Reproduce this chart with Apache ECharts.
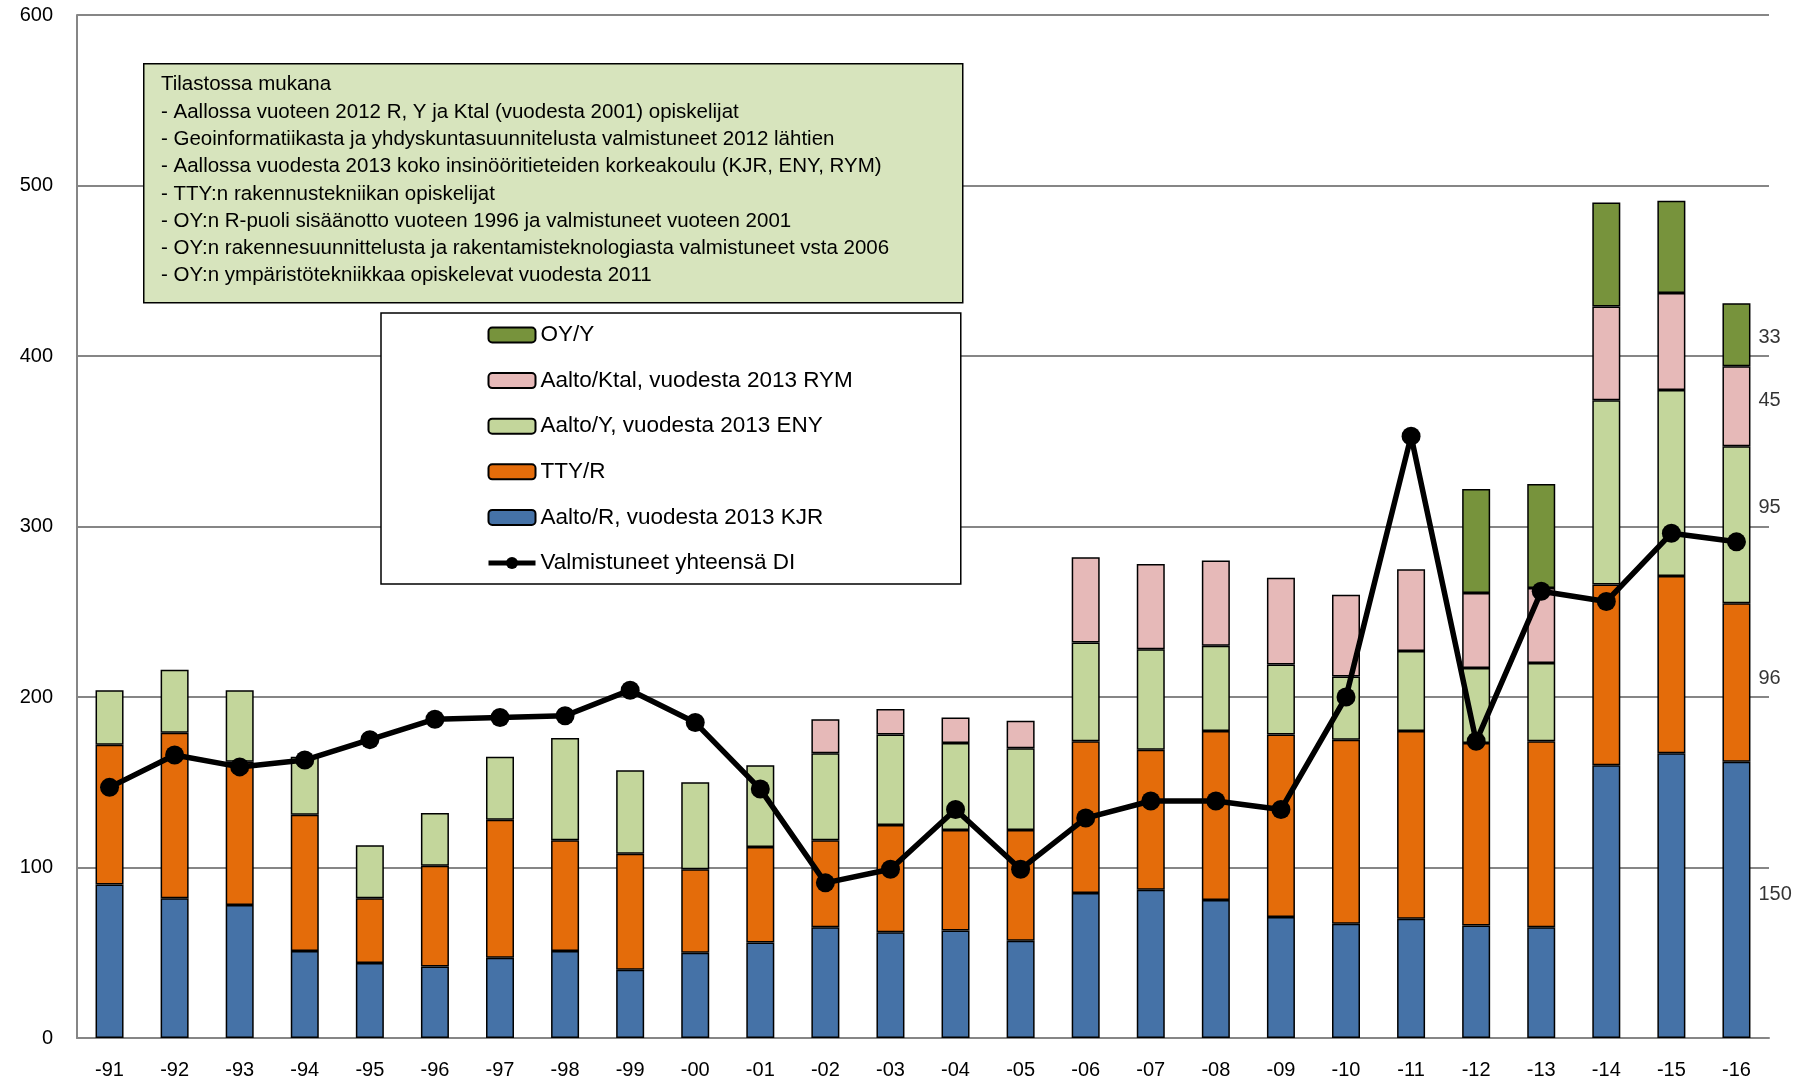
<!DOCTYPE html>
<html>
<head>
<meta charset="utf-8">
<script src="https://cdn.jsdelivr.net/npm/echarts@6/dist/echarts.min.js"></script>
<style>
  html, body { margin: 0; padding: 0; background: #fff; }
  #chart { width: 1806px; height: 1084px; }
</style>
</head>
<body>
<div id="chart"></div>
<script>
// vuodet
const years = ['-91', '-92', '-93', '-94', '-95', '-96', '-97', '-98', '-99', '-00', '-01', '-02', '-03',
  '-04', '-05', '-06', '-07', '-08', '-09', '-10', '-11', '-12', '-13', '-14', '-15', '-16']

// pinotut palkit (alhaalta ylös)
const aaltoR = [90, 82, 78, 51, 44, 42, 47, 51, 40, 50, 56, 65, 62, 63, 57, 85, 87, 81, 71, 67, 70, 66, 65, 160, 167, 162]
const ttyR = [82, 97, 84, 80, 38, 59, 81, 65, 68, 49, 56, 51, 63, 59, 65, 89, 82, 99, 107, 108, 110, 107, 109, 106, 104, 93]
const aaltoY = [32, 37, 42, 34, 31, 31, 37, 60, 49, 51, 48, 51, 53, 51, 48, 58, 59, 50, 41, 37, 47, 44, 46, 108, 109, 92]
const aaltoKtal = [null, null, null, null, null, null, null, null, null, null, null, 20, 15, 15, 16, 50, 50, 50, 51, 48, 48, 44, 44, 55, 57, 47]
const oyY = [null, null, null, null, null, null, null, null, null, null, null, null, null, null, null, null, null, null, null, null, null, 61, 61, 61, 54, 37]

// viiva
const valmistuneet = [147, 166, 159, 163, 175, 187, 188, 189, 204, 185, 146, 91, 99, 134, 99, 129, 139, 139, 134, 200, 353, 174, 262, 256, 296, 291]

// oikean reunan tekstit ja niiden korkeus arvoakselilla
const sideLabels = ['150', '96', '95', '45', '33']
const sideLabelLevels = [84, 211, 311, 374, 411]

const noteLines = [
  'Tilastossa mukana',
  '- Aallossa vuoteen 2012 R, Y ja Ktal (vuodesta 2001) opiskelijat',
  '- Geoinformatiikasta ja yhdyskuntasuunnitelusta valmistuneet 2012 lähtien',
  '- Aallossa vuodesta 2013 koko insinööritieteiden korkeakoulu (KJR, ENY, RYM)',
  '- TTY:n rakennustekniikan opiskelijat',
  '- OY:n R-puoli sisäänotto vuoteen 1996 ja valmistuneet vuoteen 2001',
  '- OY:n rakennesuunnittelusta ja rakentamisteknologiasta valmistuneet vsta 2006',
  '- OY:n ympäristötekniikkaa opiskelevat vuodesta 2011',
]

const FONT = '"Liberation Sans", sans-serif'
const GRID_COLOR = '#868686'

function barSeries(name, data, color) {
  return {
    name: name,
    type: 'bar',
    stack: 'total',
    barWidth: 28,
    data: data,
    itemStyle: { color: color, borderColor: '#000', borderWidth: 1.5 },
  }
}

const chart = echarts.init(document.getElementById('chart'))
const option = {
  animation: false,
  backgroundColor: '#fff',
  grid: { left: 77, right: 37, top: 15, bottom: 46 },
  legend: {
    orient: 'vertical',
    left: 381,
    top: 313,
    data: ['OY/Y', 'Aalto/Ktal, vuodesta 2013 RYM', 'Aalto/Y, vuodesta 2013 ENY', 'TTY/R',
      'Aalto/R, vuodesta 2013 KJR',
      { name: 'Valmistuneet yhteensä DI', lineStyle: { width: 5 } }],
    backgroundColor: '#fff',
    borderColor: '#000',
    borderWidth: 1.5,
    borderRadius: 0,
    padding: [10, 108, 9, 105],
    itemWidth: 47,
    itemHeight: 15,
    itemGap: 21.6,
    textStyle: { fontFamily: FONT, fontSize: 22.5, color: '#000', lineHeight: 24 },
  },
  xAxis: {
    type: 'category',
    data: years,
    axisLine: { lineStyle: { color: GRID_COLOR, width: 2 } },
    axisTick: { show: false },
    axisLabel: { color: '#000', fontFamily: FONT, fontSize: 20, margin: 22 },
  },
  yAxis: {
    type: 'value',
    min: 0,
    max: 600,
    interval: 100,
    axisLine: { show: true, lineStyle: { color: GRID_COLOR, width: 2 } },
    axisTick: { show: false },
    splitLine: { lineStyle: { color: GRID_COLOR, width: 2 } },
    axisLabel: { color: '#000', fontFamily: FONT, fontSize: 20, margin: 24 },
  },
  series: [
    barSeries('Aalto/R, vuodesta 2013 KJR', aaltoR, '#4572A7'),
    barSeries('TTY/R', ttyR, '#E46C0A'),
    barSeries('Aalto/Y, vuodesta 2013 ENY', aaltoY, '#C3D69B'),
    barSeries('Aalto/Ktal, vuodesta 2013 RYM', aaltoKtal, '#E6B9B8'),
    barSeries('OY/Y', oyY, '#77933C'),
    {
      name: 'Valmistuneet yhteensä DI',
      type: 'line',
      data: valmistuneet,
      symbol: 'circle',
      symbolSize: 19,
      z: 5,
      lineStyle: { color: '#000', width: 5.5 },
      itemStyle: { color: '#000', borderWidth: 0 },
    },
    {
      name: 'sivutekstit',
      type: 'scatter',
      symbolSize: 0,
      silent: true,
      data: sideLabelLevels.map((v, i) => ({ value: [years.length - 1, v], label: { formatter: sideLabels[i] } })),
      label: {
        show: true,
        position: 'right',
        distance: 22,
        color: '#000',
        fontFamily: FONT,
        fontSize: 20,
      },
    },
  ],
  graphic: [
    {
      type: 'rect',
      left: 143,
      top: 63,
      z: 50,
      shape: { width: 819, height: 239 },
      style: { fill: '#D7E4BD', stroke: '#000', lineWidth: 1.5 },
    },
    {
      type: 'text',
      left: 161,
      top: 71,
      z: 51,
      style: {
        text: noteLines.join('\n'),
        fill: '#000',
        fontFamily: FONT,
        fontSize: 20.5,
        lineHeight: 27.3,
      },
    },
  ],
}
chart.setOption(option)
</script>
</body>
</html>
